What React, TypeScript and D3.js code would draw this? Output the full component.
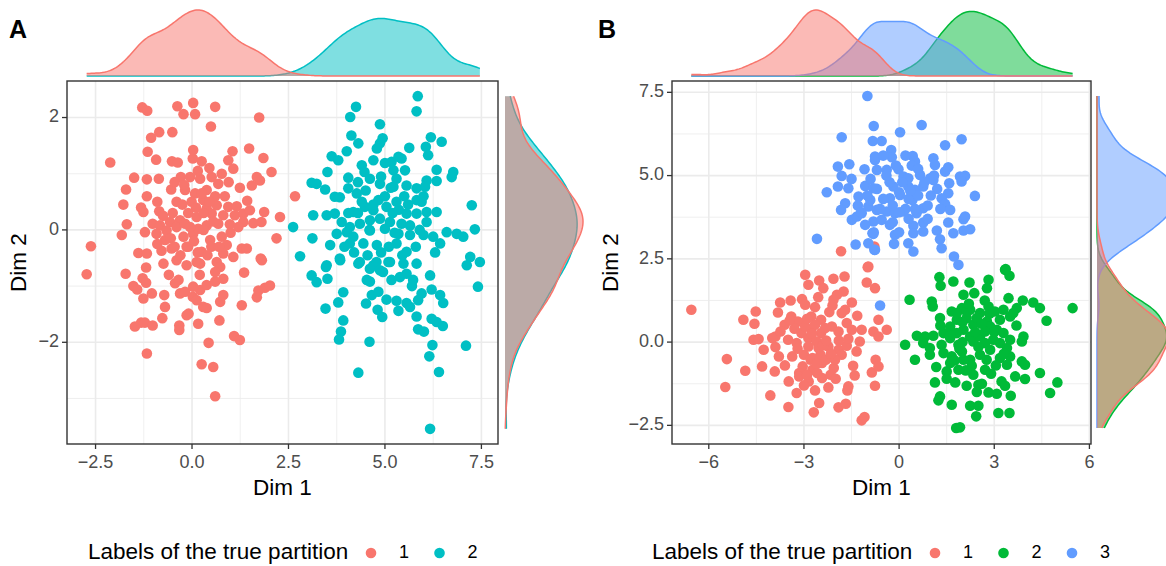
import React from "react";
import * as d3 from "d3";

type P = [number, number];

// ---------- Panel A data (Dim 1, Dim 2) ----------
const A_GROUP_LABELS = ["1", "2"];
const A_COLORS = ["#F8766D", "#00BFC4"];

const A1: P[] = [
  [-1.29, 2.18], [-1.16, 2.12], [-0.38, 2.2], [0.03, 2.26], [-0.22, 2.06], [0.08, 2.06], [0.6, 2.19], [1.74, 2.0],
  [0.49, 1.84], [-0.85, 1.74], [-1.06, 1.64], [-0.51, 1.74], [-2.12, 1.2], [-1.15, 1.39], [-0.93, 1.25], [-0.52, 1.22],
  [-0.37, 1.2], [0.03, 1.42], [0.02, 1.27], [0.25, 1.22], [1.05, 1.4], [1.48, 1.45], [0.94, 1.24], [1.07, 1.09],
  [1.85, 1.28], [2.06, 1.03], [-1.5, 0.93], [-1.17, 0.9], [-0.86, 0.91], [-1.71, 0.72], [-1.17, 0.6], [-0.54, 0.72],
  [-1.78, 0.45], [-1.32, 0.4], [-1.26, 0.32], [-0.85, 0.33], [-1.69, 0.1], [-1.82, -0.09], [-2.62, -0.29], [-0.29, 0.94],
  [-0.05, 0.94], [0.21, 0.91], [0.51, 0.94], [0.77, 1.0], [0.68, 0.82], [1.24, 0.75], [1.55, 0.79], [1.76, 0.88],
  [1.68, 0.94], [-0.18, 0.71], [0.08, 0.65], [0.38, 0.71], [-0.4, 0.5], [-0.01, 0.5], [0.29, 0.53], [0.64, 0.44],
  [0.38, 0.38], [0.94, 0.41], [1.16, 0.42], [1.43, 0.52], [1.87, 0.32], [0.12, 0.23], [0.51, 0.29], [0.81, 0.26],
  [1.11, 0.26], [1.33, 0.29], [1.59, 0.12], [1.8, 0.14], [1.33, 0.14], [0.98, 0.1], [-1.02, 0.11], [-0.83, 0.08],
  [-0.57, 0.14], [-0.31, 0.17], [0.38, 0.08], [0.68, 0.11], [-1.22, -0.04], [-0.92, -0.07], [-0.66, -0.01], [-0.4, 0.05],
  [-0.18, 0.11], [0.03, -0.07], [0.16, 0.02], [0.47, -0.18], [0.77, -0.12], [0.9, -0.27], [1.29, -0.33], [1.42, -0.33],
  [2.19, -0.15], [2.28, 0.23], [1.78, -0.51], [-1.39, -0.41], [-1.17, -0.42], [-0.79, -0.37], [-0.53, -0.33], [-0.14, -0.3],
  [0.25, -0.39], [0.81, -0.42], [1.07, -0.48], [-0.4, -0.54], [0.12, -0.57], [0.64, -0.57], [-0.7, -0.18], [-0.22, -0.12],
  [-2.73, -0.79], [-1.72, -0.78], [-1.19, -0.67], [-1.28, -0.86], [-1.19, -0.94], [-1.52, -1.0], [-1.42, -1.06], [-1.04, -1.13],
  [-1.26, -1.22], [-0.72, -1.16], [-0.7, -1.37], [-0.77, -1.57], [-1.48, -1.72], [-1.32, -1.65], [-1.22, -1.65], [-1.02, -1.7],
  [-0.33, -1.7], [-0.33, -1.78], [-0.44, -0.95], [-0.31, -1.13], [-0.18, -1.1], [-0.35, -0.89], [-0.09, -1.49], [-0.14, -1.52],
  [0.16, -1.67], [0.02, -1.19], [0.21, -1.07], [0.03, -1.01], [0.38, -0.98], [0.6, -0.92], [0.29, -1.37], [0.38, -1.39],
  [0.12, -1.25], [0.73, -1.28], [0.81, -1.16], [0.81, -0.87], [0.71, -1.61], [1.29, -1.34], [1.35, -0.76], [1.09, -1.89],
  [1.24, -1.96], [0.43, -2.01], [0.25, -2.39], [0.55, -2.44], [-1.17, -2.2], [0.6, -2.96], [1.68, -1.2], [1.72, -1.08],
  [1.89, -1.03], [2.02, -0.99], [1.81, -0.54], [-0.14, -0.63], [0.21, -0.6], [0.73, -0.66], [-0.74, -0.6], [2.67, 0.6],
  [0.1, 0.4], [-0.1, -0.3], [0.3, 0.0], [-0.5, 0.3], [0.6, 0.6], [-0.2, 0.8], [0.2, -0.8], [-0.6, -0.8], [0.5, -0.3], [-0.9, 0.5],
  [-0.45, 0.85], [0.15, 1.05], [0.45, 1.1], [-0.1, 0.3], [0.25, 0.65], [0.55, 0.15], [0.85, 0.6], [1.0, -0.05],
  [-0.3, -0.45], [0.4, -0.45], [0.05, -0.2], [-0.55, -0.15], [0.7, -0.3], [1.2, 0.05], [-0.25, 0.45], [0.45, 0.5],
  [-0.75, 0.25], [0.95, 0.85], [0.15, -0.4], [-0.05, 0.05], [0.6, -0.75], [-0.45, -0.3], [0.3, 0.3], [-0.9, -0.25], [1.5, 0.35],
];

const A2: P[] = [
  [5.85, 2.38], [5.82, 2.11], [4.25, 2.19], [4.1, 2.01], [4.87, 1.88], [4.13, 1.68], [4.31, 1.54], [4.01, 1.4],
  [4.94, 1.63], [4.87, 1.54], [4.79, 1.45], [6.19, 1.65], [6.47, 1.57], [6.06, 1.48], [6.12, 1.33], [5.63, 1.46],
  [5.43, 1.27], [3.62, 1.31], [3.79, 1.24], [3.51, 1.03], [4.7, 1.24], [5.0, 1.19], [5.17, 1.21], [4.4, 1.15],
  [4.47, 1.03], [5.22, 1.06], [5.3, 0.91], [5.52, 1.06], [6.34, 1.07], [6.77, 1.03], [6.73, 0.94], [4.05, 0.93],
  [4.61, 0.91], [4.87, 0.82], [6.34, 0.87], [6.08, 0.88], [3.1, 0.84], [3.23, 0.82], [3.45, 0.72], [4.05, 0.74],
  [4.27, 0.65], [5.22, 0.77], [5.56, 0.79], [5.82, 0.74], [6.04, 0.77], [3.7, 0.59], [3.83, 0.58], [4.83, 0.53],
  [5.04, 0.41], [5.82, 0.53], [5.95, 0.5], [3.14, 0.26], [2.62, 0.05], [2.8, -0.47], [3.49, 0.26], [3.7, 0.29],
  [4.18, 0.32], [4.48, 0.41], [4.7, 0.35], [5.36, 0.36], [5.56, 0.29], [5.82, 0.29], [6.08, 0.32], [6.34, 0.32],
  [7.25, 0.44], [7.33, 0.01], [3.88, 0.14], [4.09, 0.05], [4.35, 0.11], [4.61, 0.17], [4.87, 0.2], [5.13, 0.14],
  [5.43, 0.11], [5.65, 0.08], [6.08, 0.14], [3.75, -0.07], [4.01, -0.04], [4.18, -0.12], [4.61, -0.01], [5.0, 0.02],
  [5.35, -0.07], [5.65, -0.09], [6.0, -0.09], [6.25, -0.12], [6.6, -0.04], [6.86, -0.07], [7.03, -0.12], [3.12, -0.15],
  [3.58, -0.27], [4.09, -0.24], [4.44, -0.24], [4.79, -0.27], [5.3, -0.24], [5.56, -0.39], [6.43, -0.24], [3.83, -0.51],
  [4.35, -0.57], [4.7, -0.63], [5.09, -0.57], [5.48, -0.6], [5.82, -0.6], [3.49, -0.63], [7.21, -0.48], [7.12, -0.63],
  [7.46, -0.57], [3.84, -0.54], [4.31, -0.6], [4.78, -0.57], [5.13, -0.57], [3.1, -0.81], [3.23, -0.93], [3.51, -0.87],
  [3.47, -0.66], [4.61, -0.69], [4.87, -0.72], [4.53, -0.89], [4.61, -0.92], [5.17, -0.89], [5.39, -0.84], [5.56, -0.78],
  [5.73, -0.89], [6.17, -0.81], [6.21, -1.06], [6.43, -1.16], [6.51, -1.3], [5.95, -1.13], [5.86, -1.25], [7.41, -1.01],
  [3.92, -1.11], [3.79, -1.29], [3.46, -1.4], [3.92, -1.61], [3.86, -1.81], [3.81, -1.95], [4.6, -1.99], [4.51, -1.31],
  [4.66, -1.16], [4.83, -1.1], [4.81, -1.42], [4.93, -1.55], [5.04, -1.24], [5.3, -1.26], [5.35, -1.44], [5.56, -1.3],
  [5.65, -1.37], [5.82, -1.54], [5.86, -1.77], [6.01, -1.81], [6.21, -1.58], [6.34, -1.64], [6.5, -1.71], [6.23, -2.05],
  [6.15, -2.25], [6.4, -2.53], [7.1, -2.06], [4.31, -2.54], [6.17, -3.54],
  [5.0, 0.6], [5.3, 0.5], [4.5, 0.7], [5.6, 0.45], [4.9, -0.4], [5.2, 0.3], [4.3, 0.3], [5.9, 0.0],
  [4.4, 0.5], [4.6, 0.0], [5.1, -0.3], [5.5, 0.6], [5.8, -0.3], [4.2, -0.4], [4.9, 0.95], [5.35, 1.3],
  [4.3, 0.85], [6.0, 0.6], [4.05, 0.3], [5.7, -1.0], [4.95, -0.75], [5.25, -0.05], [6.3, -0.4], [4.7, 0.45],
  [5.45, -0.45], [3.95, -0.3], [4.55, -0.45], [5.15, 0.75],
];

// ---------- Panel B data ----------
const B_GROUP_LABELS = ["1", "2", "3"];
const B_COLORS = ["#F8766D", "#00BA38", "#619CFF"];

const B1: P[] = [
  [-1.83, 2.73], [-0.97, 2.27], [-0.78, 2.87], [-6.55, 0.97], [-0.99, 2.25], [-1.02, 1.79], [-0.76, 1.62], [-2.96, 2.02],
  [-2.86, 1.72], [-2.52, 1.85], [-2.39, 1.62], [-2.07, 1.9], [-1.72, 1.97], [-1.75, 1.52], [-1.96, 1.42], [-2.07, 1.27],
  [-1.49, 1.19], [-3.75, 1.19], [-3.42, 1.25], [-3.06, 1.29], [-2.96, 1.12], [-2.65, 1.05], [-1.7, 0.97], [-1.81, 0.87],
  [-1.32, 0.79], [-0.65, 0.67], [-3.82, 0.89], [-3.4, 0.77], [-4.52, 0.92], [-4.91, 0.67], [-4.56, 0.55], [-3.61, 0.52],
  [-3.19, 0.62], [-2.77, 0.77], [-2.46, 0.67], [-2.12, 0.47], [-2.77, 0.37], [-3.08, 0.27], [-2.46, 0.27], [-1.91, 0.32],
  [-1.65, 0.57], [-1.49, 0.37], [-1.18, 0.37], [-0.81, 0.32], [-0.65, 0.17], [-1.24, 0.02], [-1.34, -0.28], [-3.74, 0.32],
  [-3.9, 0.17], [-4.59, 0.07], [-4.43, 0.09], [-4.0, 0.12], [-4.27, -0.23], [-3.5, 0.07], [-3.23, -0.03], [-2.86, 0.12],
  [-2.6, 0.02], [-2.23, -0.13], [-1.91, -0.23], [-1.65, -0.11], [-1.81, -0.38], [-3.79, -0.43], [-3.37, -0.43], [-3.0, -0.38],
  [-2.79, -0.53], [-2.48, -0.38], [-2.43, -0.63], [-2.06, -0.78], [-2.73, -0.83], [-3.04, -0.73], [-3.15, -0.93], [-3.48, -1.18],
  [-2.85, -1.18], [-2.43, -1.08], [-2.16, -0.98], [-2.23, -1.36], [-3.15, -1.03], [-5.43, -0.51], [-4.85, -0.86], [-4.32, -0.73],
  [-3.92, -0.88], [-5.48, -1.35], [-4.06, -1.6], [-3.23, -1.53], [-3.49, -1.95], [-2.52, -1.83], [-2.69, -2.11], [-1.91, -1.96],
  [-1.68, -1.85], [-1.6, -1.33], [-1.63, -1.45], [-1.45, -0.71], [-0.86, -0.91], [-0.76, -1.31], [-0.74, -0.53], [-1.18, -2.35],
  [-1.09, -2.25], [-2.96, 0.47], [-2.65, 0.52], [-2.33, 0.42], [-2.86, -0.13], [-2.54, -0.18], [-2.73, -0.48], [-2.31, -0.53],
  [-2.02, -0.53], [-2.58, -0.93], [-2.9, -0.98], [-0.39, 0.37], [-0.65, -0.73],
  [-3.3, 0.4], [-2.9, 0.7], [-2.2, 0.9], [-1.9, 0.05], [-2.4, -0.1], [-3.2, -0.2], [-2.6, -0.65], [-2.0, -1.1],
  [-3.6, -0.7], [-2.3, 0.05], [-1.6, 0.1], [-2.75, 0.25], [-3.45, 0.65], [-2.15, -0.35], [-3.0, -1.3], [-2.55, 1.35],
  [-1.4, -1.0], [-2.65, -1.45], [-3.9, -0.15], [-2.1, 1.1],
];

const B2: P[] = [
  [3.34, 2.17], [3.48, 1.99], [1.27, 1.95], [1.31, 1.69], [1.71, 1.82], [2.22, 1.79], [2.82, 1.87], [2.77, 1.62],
  [2.03, 1.42], [2.37, 1.47], [0.33, 1.27], [1.03, 1.22], [1.06, 1.07], [3.45, 1.32], [3.9, 1.25], [4.23, 1.19],
  [4.44, 1.02], [5.47, 1.02], [4.65, 0.64], [1.66, 0.92], [1.98, 1.02], [2.24, 0.97], [2.55, 0.87], [2.82, 1.07],
  [3.02, 0.92], [3.29, 0.97], [3.71, 1.02], [1.29, 0.72], [1.82, 0.67], [2.13, 0.72], [2.34, 0.52], [2.77, 0.62],
  [3.18, 0.67], [3.5, 0.77], [3.6, 0.87], [2.03, 0.37], [3.08, 0.37], [3.29, 0.27], [0.56, 0.19], [0.82, 0.17],
  [1.08, 0.19], [1.4, 0.27], [1.61, 0.12], [3.92, 0.17], [3.87, 0.02], [0.19, -0.08], [0.76, -0.03], [0.97, -0.18],
  [1.34, -0.08], [1.87, -0.08], [2.34, 0.02], [2.71, -0.03], [2.55, 0.17], [2.87, -0.23], [3.4, -0.18], [3.5, -0.43],
  [0.5, -0.53], [0.97, -0.38], [1.66, -0.43], [1.98, -0.28], [2.24, -0.53], [2.55, -0.38], [3.18, -0.48], [3.4, -0.68],
  [3.87, -0.58], [3.97, -0.68], [1.17, -0.75], [1.5, -0.88], [1.87, -0.83], [2.29, -0.71], [2.71, -0.83], [2.34, -0.98],
  [4.44, -0.93], [1.13, -1.21], [1.77, -1.21], [2.13, -1.31], [2.5, -1.28], [2.61, -1.25], [3.23, -1.18], [3.34, -1.31],
  [3.66, -1.03], [3.97, -1.11], [2.82, -1.51], [3.08, -1.55], [3.52, -1.61], [4.76, -1.53], [4.99, -1.21], [1.29, -1.63],
  [1.24, -1.75], [1.66, -1.88], [2.24, -1.91], [2.5, -1.91], [2.43, -2.23], [3.13, -2.13], [3.48, -2.13], [1.8, -2.58],
  [1.92, -2.56], [1.82, 0.87], [2.13, 0.92], [2.45, 0.72], [2.87, 0.47], [1.82, 0.27], [2.24, 0.17], [1.61, 0.47],
  [2.71, 0.32], [2.97, 0.07], [2.03, -0.53], [2.76, -0.53], [3.18, -0.03], [3.5, 0.07], [1.4, -0.33], [1.61, -0.63],
  [3.36, 2.19],
  [2.0, 0.6], [2.6, 0.55], [2.4, 0.3], [1.9, -0.2], [2.5, -0.15], [3.0, 0.3], [2.1, -0.85], [2.9, -0.95],
  [1.6, 0.2], [3.3, -0.35], [2.7, 1.25], [2.2, 1.15], [1.3, 0.5], [3.7, 0.5], [2.45, -1.5], [1.75, -0.55],
  [3.05, -0.7], [2.0, 0.0], [2.85, 0.85], [1.5, -1.1],
];

const B3: P[] = [
  [-1.0, 7.39], [-0.8, 6.49], [-1.81, 6.15], [-0.83, 6.04], [-1.57, 5.34], [-1.93, 5.27], [-1.81, 4.99], [-1.09, 5.19],
  [-0.76, 5.47], [-0.7, 5.17], [-2.28, 4.5], [-1.93, 4.67], [-1.6, 4.62], [-1.07, 4.69], [-0.81, 4.62], [-1.28, 4.37],
  [-1.7, 4.17], [-1.83, 3.97], [-1.49, 3.67], [-1.18, 3.87], [-0.97, 4.07], [-0.81, 3.62], [-1.07, 3.52], [-1.33, 3.77],
  [-2.59, 3.1], [-1.37, 2.93], [-0.97, 2.97], [-0.78, 2.77], [-0.84, 3.27], [0.71, 6.52], [0.03, 6.3], [-0.55, 6.04],
  [1.45, 5.91], [1.97, 6.09], [-0.25, 5.77], [-0.23, 5.55], [-0.76, 5.57], [0.43, 5.59], [0.5, 5.42], [1.08, 5.52],
  [1.13, 5.32], [1.55, 5.25], [1.45, 5.12], [-0.39, 5.17], [-0.02, 5.19], [0.14, 4.97], [0.29, 4.92], [0.66, 5.02],
  [0.98, 4.92], [1.08, 4.87], [1.92, 4.97], [2.08, 4.99], [1.97, 4.82], [1.58, 4.77], [-0.18, 4.67], [0.29, 4.67],
  [0.5, 4.57], [0.76, 4.67], [-0.29, 4.32], [0.03, 4.42], [0.42, 4.27], [1.55, 4.47], [1.34, 4.32], [1.45, 4.15],
  [1.61, 3.97], [2.39, 4.39], [-0.91, 4.27], [-0.7, 3.97], [-0.39, 3.92], [-0.13, 3.87], [0.14, 3.92], [0.76, 4.02],
  [0.55, 3.87], [-0.55, 3.67], [-0.29, 3.52], [-0.13, 3.22], [0.45, 3.49], [0.45, 3.27], [0.76, 3.59], [0.76, 3.32],
  [1.19, 3.35], [1.29, 3.09], [1.34, 2.82], [1.55, 3.59], [1.71, 3.27], [2.03, 3.69], [2.08, 3.77], [2.03, 3.35],
  [2.24, 3.39], [-0.81, 3.25], [-0.76, 2.77], [-0.16, 2.95], [0.29, 2.97], [0.45, 2.72], [1.73, 2.57], [1.87, 2.32],
  [-0.6, 1.1], [0.0, 4.5], [-0.3, 4.8], [0.3, 4.3], [-0.6, 4.0], [0.2, 4.0], [0.6, 4.4], [-0.2, 3.6],
  [0.9, 4.1], [-0.9, 4.9], [0.4, 5.3], [-0.5, 5.6], [1.2, 4.6], [0.0, 3.3], [-1.3, 4.1], [-0.8, 3.3],
  [-0.5, 4.3], [0.1, 4.8], [0.5, 4.0], [-0.2, 4.1], [0.8, 4.8], [-0.7, 4.6], [0.3, 3.7], [1.0, 4.4],
  [-1.0, 4.4], [0.6, 5.2], [-0.4, 5.0], [0.2, 5.6], [1.3, 4.0], [-1.5, 4.9], [0.0, 3.9], [0.9, 3.7],
  [-0.1, 5.3], [1.1, 5.0], [-1.2, 3.9], [0.35, 4.55],
];

// ---------- Axis ticks ----------
const A_X_TICKS = [-2.5, 0, 2.5, 5, 7.5];
const A_X_TICK_LABELS = ["\u22122.5", "0.0", "2.5", "5.0", "7.5"];
const A_X_MINOR = [-1.25, 1.25, 3.75, 6.25];
const A_Y_TICKS = [-2, 0, 2];
const A_Y_TICK_LABELS = ["\u22122", "0", "2"];
const A_Y_MINOR = [-3, -1, 1];

const B_X_TICKS = [-6, -3, 0, 3, 6];
const B_X_TICK_LABELS = ["\u22126", "\u22123", "0", "3", "6"];
const B_X_MINOR = [-4.5, -1.5, 1.5, 4.5];
const B_Y_TICKS = [-2.5, 0, 2.5, 5, 7.5];
const B_Y_TICK_LABELS = ["\u22122.5", "0.0", "2.5", "5.0", "7.5"];
const B_Y_MINOR = [-1.25, 1.25, 3.75, 6.25];

const FONT = "'Liberation Sans', Arial, Helvetica, sans-serif";
const TITLE_SIZE = 22.5;
const TICK_SIZE = 18;

function kde(values: number[], grid: number[]): number[] {
  const sorted = values.slice().sort((a, b) => a - b);
  const n = values.length;
  const sd = d3.deviation(values) as number;
  const iqr = (d3.quantileSorted(sorted, 0.75) as number) - (d3.quantileSorted(sorted, 0.25) as number);
  const bw = 0.9 * Math.min(sd, iqr / 1.34) * Math.pow(n, -0.2);
  const c = 1 / (Math.sqrt(2 * Math.PI) * bw * n);
  return grid.map((g) => {
    let s = 0;
    for (const v of values) {
      const z = (g - v) / bw;
      s += Math.exp(-0.5 * z * z);
    }
    return s * c;
  });
}

type PanelProps = {
  tag: string;
  tagX: number;
  groups: P[][];
  labels: string[];
  colors: string[];
  xDomain: [number, number];
  yDomain: [number, number];
  left: number;
  right: number;
  top: number;
  bottom: number;
  xTicks: number[];
  xTickLabels: string[];
  xMinor: number[];
  yTicks: number[];
  yTickLabels: string[];
  yMinor: number[];
  topBase: number;
  topPeak: number;
  rightBase: number;
  rightPeak: number;
  legendX: number;
  dimYX: number;
  clipId: string;
};

function Panel(p: PanelProps) {
  const x = d3.scaleLinear().domain(p.xDomain).range([p.left, p.right]);
  const y = d3.scaleLinear().domain(p.yDomain).range([p.bottom, p.top]);

  const allX = p.groups.flat().map((d) => d[0]);
  const allY = p.groups.flat().map((d) => d[1]);
  const [xMin, xMax] = d3.extent(allX) as [number, number];
  const [yMin, yMax] = d3.extent(allY) as [number, number];
  const N = 256;
  const gridX = d3.range(N).map((i) => xMin + ((xMax - xMin) * i) / (N - 1));
  const gridY = d3.range(N).map((i) => yMin + ((yMax - yMin) * i) / (N - 1));
  const densX = p.groups.map((g) => kde(g.map((d) => d[0]), gridX));
  const densY = p.groups.map((g) => kde(g.map((d) => d[1]), gridY));
  const maxX = d3.max(densX.flat()) as number;
  const maxY = d3.max(densY.flat()) as number;
  const dTop = d3.scaleLinear().domain([0, maxX]).range([p.topBase, p.topPeak]);
  const dRight = d3.scaleLinear().domain([0, maxY]).range([p.rightBase, p.rightPeak]);

  const areaTop = d3
    .area<number>()
    .x((_, i) => x(gridX[i]))
    .y0(p.topBase)
    .y1((d) => dTop(d));
  const lineTop = d3
    .line<number>()
    .x((_, i) => x(gridX[i]))
    .y((d) => dTop(d));
  const areaRight = d3
    .area<number>()
    .y((_, i) => y(gridY[i]))
    .x0(p.rightBase)
    .x1((d) => dRight(d));
  const lineRight = d3
    .line<number>()
    .y((_, i) => y(gridY[i]))
    .x((d) => dRight(d));

  // density layers: group 1 (index 0) is painted last, on top
  const order = [...d3.range(1, p.groups.length), 0];

  const legendY = 553;
  const cx0 = p.legendX + 283;

  return (
    <g>
      <text x={p.tagX} y={38} fontFamily={FONT} fontWeight="bold" fontSize={25} fill="#000">
        {p.tag}
      </text>
      <rect x={p.left} y={p.top} width={p.right - p.left} height={p.bottom - p.top} fill="#fff" />
      <clipPath id={p.clipId}>
        <rect x={p.left} y={p.top} width={p.right - p.left} height={p.bottom - p.top} />
      </clipPath>
      {p.xMinor.map((v) => (
        <line key={"xm" + v} x1={x(v)} x2={x(v)} y1={p.top} y2={p.bottom} stroke="#EBEBEB" strokeWidth={0.8} />
      ))}
      {p.yMinor.map((v) => (
        <line key={"ym" + v} y1={y(v)} y2={y(v)} x1={p.left} x2={p.right} stroke="#EBEBEB" strokeWidth={0.8} />
      ))}
      {p.xTicks.map((v) => (
        <line key={"xg" + v} x1={x(v)} x2={x(v)} y1={p.top} y2={p.bottom} stroke="#EBEBEB" strokeWidth={1.6} />
      ))}
      {p.yTicks.map((v) => (
        <line key={"yg" + v} y1={y(v)} y2={y(v)} x1={p.left} x2={p.right} stroke="#EBEBEB" strokeWidth={1.6} />
      ))}
      <g clipPath={`url(#${p.clipId})`}>
        {p.groups.map((g, gi) =>
          g.map((d, i) => <circle key={gi + "-" + i} cx={x(d[0])} cy={y(d[1])} r={5.3} fill={p.colors[gi]} />)
        )}
      </g>
      <rect
        x={p.left}
        y={p.top}
        width={p.right - p.left}
        height={p.bottom - p.top}
        fill="none"
        stroke="#333333"
        strokeWidth={1.4}
      />
      {p.xTicks.map((v, i) => (
        <g key={"xt" + v}>
          <line x1={x(v)} x2={x(v)} y1={p.bottom} y2={p.bottom + 5} stroke="#333333" strokeWidth={1.3} />
          <text
            x={x(v)}
            y={p.bottom + 19}
            textAnchor="middle"
            dominantBaseline="middle"
            fontFamily={FONT}
            fontSize={TICK_SIZE}
            fill="#4D4D4D"
          >
            {p.xTickLabels[i]}
          </text>
        </g>
      ))}
      {p.yTicks.map((v, i) => (
        <g key={"yt" + v}>
          <line x1={p.left - 5} x2={p.left} y1={y(v)} y2={y(v)} stroke="#333333" strokeWidth={1.3} />
          <text
            x={p.left - 8}
            y={y(v)}
            textAnchor="end"
            dominantBaseline="middle"
            fontFamily={FONT}
            fontSize={TICK_SIZE}
            fill="#4D4D4D"
          >
            {p.yTickLabels[i]}
          </text>
        </g>
      ))}
      <text
        x={(p.left + p.right) / 2}
        y={489}
        textAnchor="middle"
        dominantBaseline="middle"
        fontFamily={FONT}
        fontSize={TITLE_SIZE}
        fill="#000"
      >
        Dim 1
      </text>
      <text
        transform={`translate(${p.dimYX},${(p.top + p.bottom) / 2}) rotate(-90)`}
        textAnchor="middle"
        dominantBaseline="middle"
        fontFamily={FONT}
        fontSize={TITLE_SIZE}
        fill="#000"
      >
        Dim 2
      </text>
      {order.map((gi) => (
        <g key={"top" + gi}>
          <path d={areaTop(densX[gi]) as string} fill={p.colors[gi]} fillOpacity={0.5} stroke="none" />
          <path d={lineTop(densX[gi]) as string} fill="none" stroke={p.colors[gi]} strokeWidth={1.5} />
        </g>
      ))}
      {order.map((gi) => (
        <g key={"right" + gi}>
          <path d={areaRight(densY[gi]) as string} fill={p.colors[gi]} fillOpacity={0.5} stroke="none" />
          <path d={lineRight(densY[gi]) as string} fill="none" stroke={p.colors[gi]} strokeWidth={1.5} />
        </g>
      ))}
      <text x={p.legendX} y={legendY} dominantBaseline="middle" fontFamily={FONT} fontSize={TITLE_SIZE} fill="#000">
        Labels of the true partition
      </text>
      {p.labels.map((lab, i) => (
        <g key={"lg" + lab}>
          <circle cx={cx0 + i * 68.5} cy={legendY} r={5.3} fill={p.colors[i]} />
          <text
            x={cx0 + i * 68.5 + 28}
            y={legendY}
            dominantBaseline="middle"
            fontFamily={FONT}
            fontSize={TICK_SIZE}
            fill="#000"
          >
            {lab}
          </text>
        </g>
      ))}
    </g>
  );
}

export default function App() {
  return (
    <svg width={1166} height={566} style={{ position: "absolute", left: 0, top: 0, background: "#fff" }}>
      <rect x={0} y={0} width={1166} height={566} fill="#fff" />
      <Panel
        tag="A"
        tagX={9}
        groups={[A1, A2]}
        labels={A_GROUP_LABELS}
        colors={A_COLORS}
        xDomain={[-3.24, 7.93]}
        yDomain={[-3.81, 2.65]}
        left={67}
        right={498}
        top={81}
        bottom={444}
        xTicks={A_X_TICKS}
        xTickLabels={A_X_TICK_LABELS}
        xMinor={A_X_MINOR}
        yTicks={A_Y_TICKS}
        yTickLabels={A_Y_TICK_LABELS}
        yMinor={A_Y_MINOR}
        topBase={76}
        topPeak={10}
        rightBase={505}
        rightPeak={583}
        legendX={88}
        dimYX={20}
        clipId="clipA"
      />
      <Panel
        tag="B"
        tagX={598}
        groups={[B1, B2, B3]}
        labels={B_GROUP_LABELS}
        colors={B_COLORS}
        xDomain={[-7.16, 6.05]}
        yDomain={[-3.06, 7.84]}
        left={672}
        right={1091}
        top={81}
        bottom={444}
        xTicks={B_X_TICKS}
        xTickLabels={B_X_TICK_LABELS}
        xMinor={B_X_MINOR}
        yTicks={B_Y_TICKS}
        yTickLabels={B_Y_TICK_LABELS}
        yMinor={B_Y_MINOR}
        topBase={76}
        topPeak={10}
        rightBase={1097}
        rightPeak={1173}
        legendX={652}
        dimYX={612}
        clipId="clipB"
      />
    </svg>
  );
}
